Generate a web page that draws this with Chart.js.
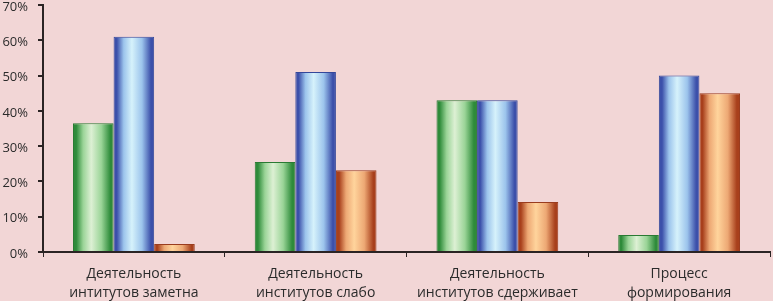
<!DOCTYPE html>
<html>
<head>
  <meta charset="utf-8">
  <title>Bar chart</title>
  <script src="https://cdn.jsdelivr.net/npm/chart.js"></script>
  <style>
    body { margin: 0; padding: 0; background-color: #F2D6D6; }
    .wrap { width: 773px; height: 301px; }
  </style>
</head>
<body>
  <div class="wrap">
    <canvas id="chart"></canvas>
  </div>
  <script>
    // Data
    const categories = [
      ['Деятельность', 'интитутов заметна'],
      ['Деятельность', 'институтов слабо'],
      ['Деятельность', 'институтов сдерживает'],
      ['Процесс', 'формирования']
    ];
    const seriesGreen = [36.5, 25.5, 43, 4.8];
    const seriesBlue = [61, 51, 43, 50];
    const seriesOrange = [2.3, 23.2, 14.2, 45];
    const yTicks = [0, 10, 20, 30, 40, 50, 60, 70];

    const CAT_PCT = 0.67;

    // horizontal "cylinder" shading for each bar
    function shade(stops) {
      return function (c) {
        const chart = c.chart;
        const xs = chart.scales.x;
        if (!xs || !chart.chartArea) return stops[2];
        const n = c.chart.data.datasets.length;
        const cat = xs.width / categories.length;
        const bw = cat * CAT_PCT / n;
        const left = xs.getPixelForValue(c.dataIndex) - cat * CAT_PCT / 2 + c.datasetIndex * bw;
        const g = chart.ctx.createLinearGradient(left, 0, left + bw, 0);
        g.addColorStop(0, stops[0]);
        g.addColorStop(0.08, stops[0]);
        g.addColorStop(0.25, stops[1]);
        g.addColorStop(0.45, stops[2]);
        g.addColorStop(0.7, stops[1]);
        g.addColorStop(0.92, stops[0]);
        g.addColorStop(1, stops[0]);
        return g;
      };
    }

    new Chart(document.getElementById('chart'), {
      type: 'bar',
      data: {
        labels: categories,
        datasets: [
          { data: seriesGreen, backgroundColor: shade(['#2E8B3A', '#9AD497', '#DDF0D4']), borderColor: '#2A7A33', borderWidth: 1 },
          { data: seriesBlue, backgroundColor: shade(['#3C50AA', '#9CC4EC', '#D6F2FB']), borderColor: '#34479A', borderWidth: 1 },
          { data: seriesOrange, backgroundColor: shade(['#A8401C', '#EDA874', '#FFD49C']), borderColor: '#9A3C1E', borderWidth: 1 }
        ]
      },
      options: {
        responsive: true,
        maintainAspectRatio: false,
        animation: false,
        layout: { padding: { top: 5, right: 3 } },
        datasets: { bar: { categoryPercentage: CAT_PCT, barPercentage: 1 } },
        plugins: { legend: { display: false }, tooltip: { enabled: false } },
        scales: {
          x: {
            grid: { offset: true, drawOnChartArea: false, drawTicks: true, tickLength: 5, color: '#2b2424', lineWidth: 1 },
            border: { display: true, color: '#2b2424', width: 2 },
            ticks: { color: '#2b2b2b', font: { family: 'Open Sans', size: 14, lineHeight: 1.4 }, maxRotation: 0, autoSkip: false, padding: 7 },
            afterFit: s => { s.height = 49; }
          },
          y: {
            min: 0,
            max: 70,
            afterBuildTicks: s => { s.ticks = yTicks.map(v => ({ value: v })); },
            grid: { drawOnChartArea: false, drawTicks: true, tickLength: 5, color: '#2b2424', lineWidth: 2 },
            border: { display: true, color: '#2b2424', width: 2 },
            ticks: { color: '#2b2b2b', font: { family: 'Open Sans', size: 13 }, padding: 10, labelOffset: 2, callback: v => v + '%' },
            afterFit: s => { s.width = 43; s.paddingTop = 0; s.paddingBottom = 0; }
          }
        }
      }
    });
  </script>
</body>
</html>
